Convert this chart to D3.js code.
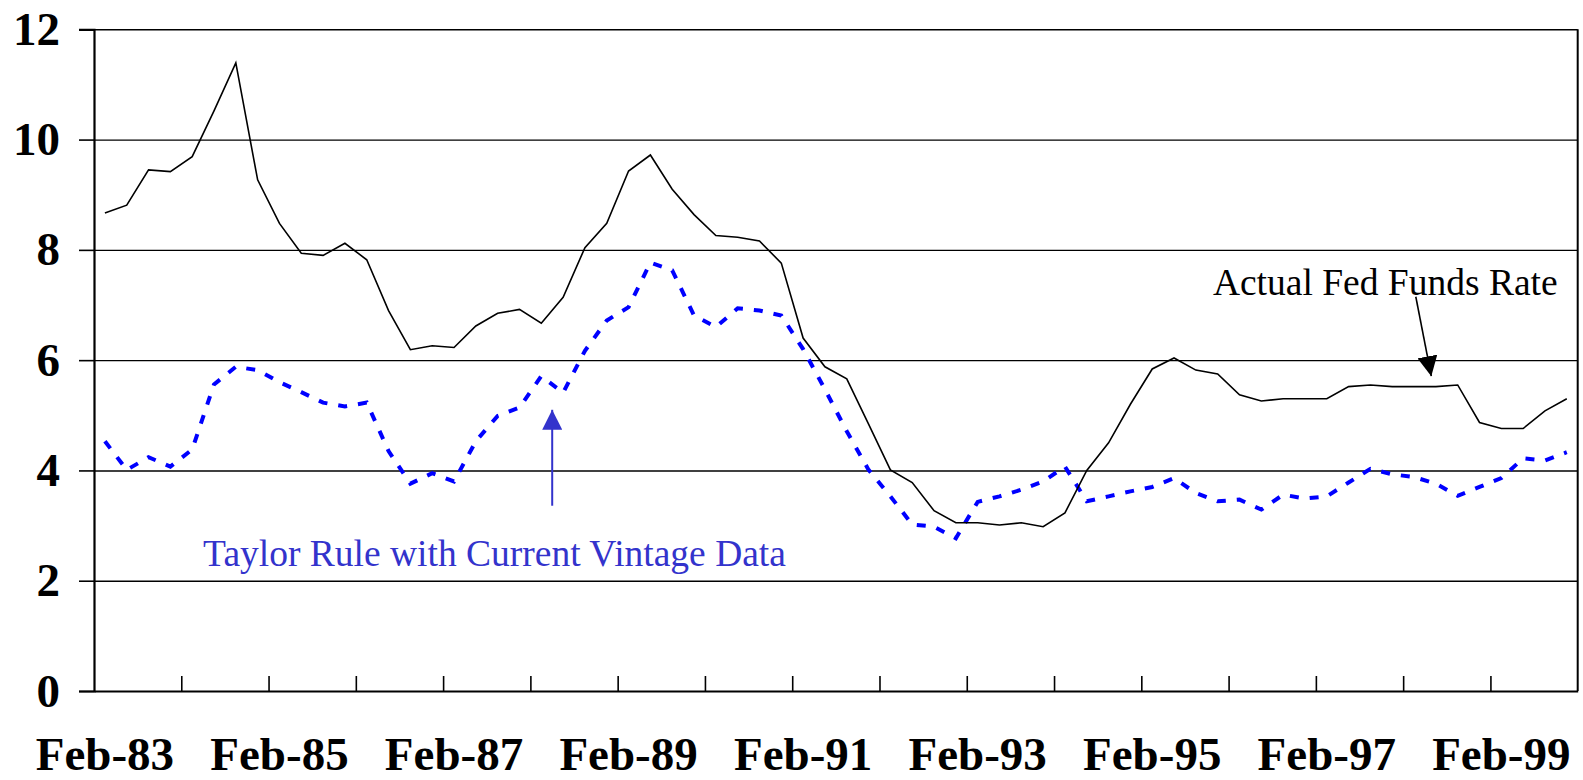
<!DOCTYPE html>
<html>
<head>
<meta charset="utf-8">
<script src="https://cdn.jsdelivr.net/npm/d3@7"></script>
<style>
  html, body { margin: 0; padding: 0; background: #fff; }
  svg { display: block; font-family: "Liberation Serif", "Times New Roman", serif; }
</style>
</head>
<body>
<div id="root"></div>
<script>
const months = ["Feb", "May", "Aug", "Nov"];
const years = d3.range(83, 100);
const quarters = [];
years.forEach((yr) => months.forEach((m) => quarters.push(`${m}-${yr}`)));

const labelEvery = 8;
const tickEvery = 4;
const yTicks = [0, 2, 4, 6, 8, 10, 12];

const fedFunds = [
  8.67, 8.81, 9.45, 9.42, 9.69, 10.52, 11.39, 9.27,
  8.48, 7.94, 7.90, 8.12, 7.82, 6.90, 6.19, 6.26,
  6.23, 6.62, 6.85, 6.92, 6.67, 7.14, 8.04, 8.48,
  9.43, 9.72, 9.10, 8.64, 8.26, 8.23, 8.16, 7.76,
  6.40, 5.88, 5.66, 4.84, 4.01, 3.78, 3.27, 3.05,
  3.05, 3.01, 3.05, 2.98, 3.23, 4.00, 4.50, 5.20,
  5.84, 6.04, 5.82, 5.75, 5.37, 5.26, 5.30, 5.30,
  5.30, 5.52, 5.55, 5.52, 5.52, 5.52, 5.55, 4.87,
  4.76, 4.76, 5.08, 5.30
];

const taylorRule = [
  4.53, 4.01, 4.24, 4.07, 4.38, 5.56, 5.88, 5.82,
  5.60, 5.42, 5.23, 5.16, 5.23, 4.35, 3.76, 3.95,
  3.80, 4.53, 4.99, 5.14, 5.71, 5.41, 6.17, 6.72,
  6.96, 7.77, 7.63, 6.81, 6.60, 6.94, 6.90, 6.81,
  6.20, 5.47, 4.71, 4.01, 3.53, 3.02, 2.98, 2.77,
  3.43, 3.53, 3.65, 3.80, 4.07, 3.44, 3.53, 3.62,
  3.70, 3.86, 3.59, 3.44, 3.47, 3.29, 3.56, 3.49,
  3.53, 3.78, 4.03, 3.93, 3.88, 3.76, 3.54, 3.70,
  3.86, 4.22, 4.18, 4.33
];

// annotations, in data units (quarter index, rate)
const fedNote = { text: "Actual Fed Funds Rate", q: 51.28, v: 7.19, from: [60.58, 7.15], to: [61.29, 5.71] };
const taylorNote = { text: "Taylor Rule with Current Vintage Data", q: 5.0, v: 2.27, from: [21, 3.36], to: [21, 5.10] };

const width = 1583;
const height = 780;
const margin = { top: 29.3, right: 5.3, bottom: 89, left: 94 };
const plotW = width - margin.left - margin.right;
const plotH = height - margin.top - margin.bottom;

const svg = d3.select("#root")
  .append("svg")
  .attr("width", width)
  .attr("height", height);

const defs = svg.append("defs");
function arrowMarker(id, color) {
  defs.append("marker")
    .attr("id", id)
    .attr("viewBox", "0 0 20 20")
    .attr("refX", 20)
    .attr("refY", 10)
    .attr("markerUnits", "userSpaceOnUse")
    .attr("markerWidth", 20)
    .attr("markerHeight", 20)
    .attr("orient", "auto")
    .append("path")
    .attr("d", "M0,0 L20,10 L0,20 Z")
    .attr("fill", color);
}
arrowMarker("headBlack", "#000");
arrowMarker("headBlue", "#3333cc");

const g = svg.append("g").attr("transform", `translate(${margin.left},${margin.top})`);

const x = d3.scaleBand().domain(quarters).range([0, plotW]).paddingInner(0).paddingOuter(0);
const xq = d3.scaleLinear().domain([0, quarters.length]).range([0, plotW]);
const y = d3.scaleLinear().domain([0, 12]).range([plotH, 0]);

// Gridlines
g.append("g")
  .attr("class", "grid")
  .call(d3.axisLeft(y).tickValues(yTicks.slice(1)).tickSize(-plotW).tickFormat(""))
  .call((s) => s.select(".domain").remove())
  .call((s) => s.selectAll("line").attr("stroke", "#000").attr("stroke-width", 1.4));

// Right border
g.append("line")
  .attr("x1", plotW).attr("x2", plotW)
  .attr("y1", 0).attr("y2", plotH)
  .attr("stroke", "#000").attr("stroke-width", 2);

// Y axis
g.append("g")
  .attr("id", "y-axis")
  .call(d3.axisLeft(y).tickValues(yTicks).tickSize(15).tickPadding(19))
  .call((s) => s.select(".domain").attr("stroke", "#000").attr("stroke-width", 2.2))
  .call((s) => s.selectAll("line").attr("stroke", "#000").attr("stroke-width", 1.6))
  .call((s) => s.selectAll("text")
    .attr("fill", "#000")
    .style("font-family", '"Liberation Serif", "Times New Roman", serif')
    .style("font-weight", "bold")
    .style("font-size", "47px"));

// X axis: tick marks between years (inside), labels every 2 years
g.append("g")
  .attr("transform", `translate(0,${plotH})`)
  .call(d3.axisBottom(xq)
    .tickValues(d3.range(tickEvery, quarters.length, tickEvery))
    .tickSize(-15)
    .tickSizeOuter(0)
    .tickFormat(""))
  .call((s) => s.select(".domain").attr("stroke", "#000").attr("stroke-width", 2.2))
  .call((s) => s.selectAll("line").attr("stroke", "#000").attr("stroke-width", 1.6));

g.append("g")
  .attr("id", "x-axis")
  .attr("transform", `translate(0,${plotH})`)
  .call(d3.axisBottom(x)
    .tickValues(quarters.filter((d, i) => i % labelEvery === 0))
    .tickSize(0))
  .call((s) => s.select(".domain").remove())
  .call((s) => s.selectAll("text")
    .attr("y", 79)
    .attr("dy", 0)
    .attr("fill", "#000")
    .style("font-family", '"Liberation Serif", "Times New Roman", serif')
    .style("font-weight", "bold")
    .style("font-size", "47px"));

const cx = (d, i) => x(quarters[i]) + x.bandwidth() / 2;

// Lines
g.append("path")
  .datum(taylorRule)
  .attr("fill", "none")
  .attr("stroke", "#0000ff")
  .attr("stroke-width", 4)
  .attr("stroke-dasharray", "9,11")
  .attr("d", d3.line().x(cx).y((d) => y(d)));

g.append("path")
  .datum(fedFunds)
  .attr("fill", "none")
  .attr("stroke", "#000")
  .attr("stroke-width", 1.6)
  .attr("stroke-linejoin", "miter")
  .attr("d", d3.line().x(cx).y((d) => y(d)));

// Annotations
g.append("text")
  .attr("x", xq(fedNote.q))
  .attr("y", y(fedNote.v))
  .attr("fill", "#000")
  .style("font-size", "37.5px")
  .text(fedNote.text);

g.append("line")
  .attr("x1", xq(fedNote.from[0])).attr("y1", y(fedNote.from[1]))
  .attr("x2", xq(fedNote.to[0])).attr("y2", y(fedNote.to[1]))
  .attr("stroke", "#000")
  .attr("stroke-width", 1.6)
  .attr("marker-end", "url(#headBlack)");

g.append("text")
  .attr("x", xq(taylorNote.q))
  .attr("y", y(taylorNote.v))
  .attr("fill", "#3333cc")
  .style("font-size", "37.5px")
  .text(taylorNote.text);

g.append("line")
  .attr("x1", xq(taylorNote.from[0])).attr("y1", y(taylorNote.from[1]))
  .attr("x2", xq(taylorNote.to[0])).attr("y2", y(taylorNote.to[1]))
  .attr("stroke", "#3333cc")
  .attr("stroke-width", 2)
  .attr("marker-end", "url(#headBlue)");
</script>
</body>
</html>
